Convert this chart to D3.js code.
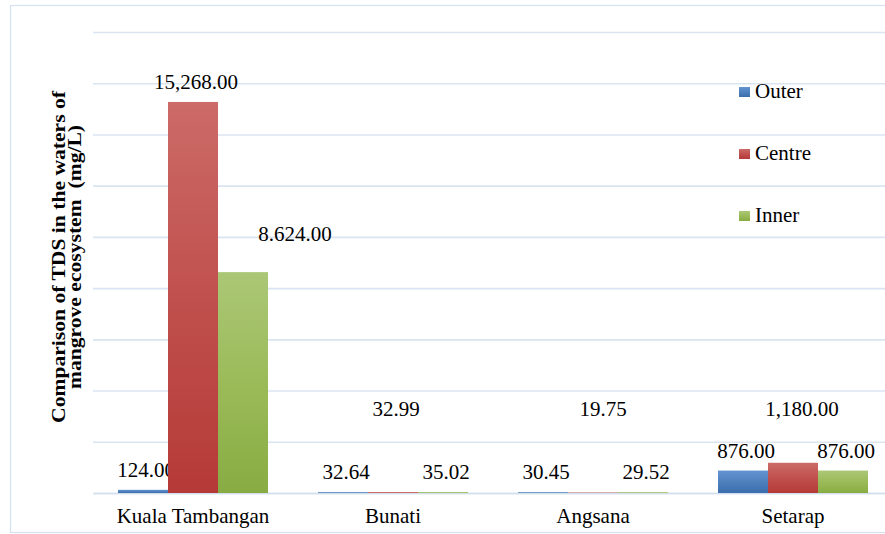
<!DOCTYPE html>
<html>
<head>
<meta charset="utf-8">
<script src="https://cdn.jsdelivr.net/npm/d3@7"></script>
<style>
  html, body { margin: 0; padding: 0; background: #fff; }
  svg { display: block; }
</style>
</head>
<body>
<svg id="chart" width="885" height="534"></svg>
<script>
// ---- data ----
const categories = ["Kuala Tambangan", "Bunati", "Angsana", "Setarap"];
const seriesNames = ["Outer", "Centre", "Inner"];
const outerValues  = [124, 32.64, 30.45, 876];
const centreValues = [15268, 32.99, 19.75, 1180];
const innerValues  = [8624, 35.02, 29.52, 876];
const outerLabels  = ["124.00", "32.64", "30.45", "876.00"];
const centreLabels = ["15,268.00", "32.99", "19.75", "1,180.00"];
const innerLabels  = ["8.624.00", "35.02", "29.52", "876.00"];
const yTicks = [0, 2000, 4000, 6000, 8000, 10000, 12000, 14000, 16000, 18000];
const yTitleLines = ["Comparison of TDS in the waters of", "mangrove ecosystem  (mg/L)"];

// ---- build ----
const FONT = "'Liberation Serif', 'Times New Roman', Times, serif";
const valuesBySeries = [outerValues, centreValues, innerValues];
const labelsBySeries = [outerLabels, centreLabels, innerLabels];
const colors = [
  { top: "#6494d2", mid: "#4f81bd", bot: "#3b6cad" },
  { top: "#cc6b68", mid: "#c0504d", bot: "#b53a37" },
  { top: "#abc776", mid: "#9bbb59", bot: "#88ac43" }
];

const svg = d3.select("#chart");
const W = 885, H = 534;
const plot = { left: 93, right: 893, top: 32, bottom: 493 };

svg.append("rect").attr("width", W).attr("height", H).attr("fill", "#fff");

const defs = svg.append("defs");
colors.forEach((c, i) => {
  const g = defs.append("linearGradient").attr("id", "grad" + i)
    .attr("x1", 0).attr("y1", 0).attr("x2", 0).attr("y2", 1);
  g.append("stop").attr("offset", "0%").attr("stop-color", c.top);
  g.append("stop").attr("offset", "50%").attr("stop-color", c.mid);
  g.append("stop").attr("offset", "100%").attr("stop-color", c.bot);
});

svg.append("rect")
  .attr("x", 10.5).attr("y", 5.5).attr("width", 900).attr("height", 527)
  .attr("fill", "none").attr("stroke", "#d6e1ef").attr("stroke-width", 1.2);

const x = d3.scaleBand().domain(categories).range([plot.left, plot.right])
  .paddingInner(0.25).paddingOuter(0.125);
const xs = d3.scaleBand().domain(seriesNames).range([0, x.bandwidth()]);
const y = d3.scaleLinear().domain([0, 18000]).range([plot.bottom, plot.top]);

const grid = d3.axisLeft(y).tickValues(yTicks).tickSize(-(plot.right - plot.left)).tickFormat("");
const gg = svg.append("g").attr("transform", `translate(${plot.left},0)`).call(grid);
gg.select(".domain").remove();
gg.selectAll(".tick line").attr("stroke", "#dbe5f2").attr("stroke-width", 1.6);

const xa = svg.append("g").attr("transform", `translate(0,${plot.bottom})`)
  .call(d3.axisBottom(x).tickSize(0).tickPadding(0));
xa.attr("font-family", FONT).attr("font-size", 21);
xa.select(".domain").attr("stroke", "#d3deec").attr("stroke-width", 1.6);
xa.selectAll(".tick text")
  .attr("dy", null).attr("y", 30)
  .style("font-family", FONT)
  .style("font-size", "21px").attr("fill", "#000");

const labelNudge = { "Kuala Tambangan|Inner": [49, -18], "Angsana|Centre": [7, 0], "Setarap|Centre": [6, 0] };
const labelsG = svg.append("g");
const barsG = svg.append("g");

seriesNames.forEach((s, si) => {
  const rows = categories.map((c, ci) => ({ c, v: valuesBySeries[si][ci], t: labelsBySeries[si][ci] }));
  barsG.selectAll(null).data(rows).enter().append("rect")
    .attr("x", d => x(d.c) + xs(s))
    .attr("y", d => y(d.v))
    .attr("width", xs.bandwidth())
    .attr("height", d => plot.bottom - y(d.v))
    .attr("fill", `url(#grad${si})`);

  labelsG.selectAll(null).data(rows).enter().append("text")
    .attr("x", d => x(d.c) + xs(s) + xs.bandwidth() / 2 + 3 + ((labelNudge[d.c + "|" + s] || [0, 0])[0]))
    .attr("y", d => {
      let yy = y(d.v) - 13;
      if (s === "Centre") yy = Math.min(yy, y(3000));
      return yy + ((labelNudge[d.c + "|" + s] || [0, 0])[1]);
    })
    .attr("text-anchor", "middle")
    .style("font-family", FONT)
    .style("font-size", "21px")
    .attr("fill", "#000")
    .text(d => d.t);
});

// y-axis title: two bold lines, slightly stretched along the text direction
const yt = svg.append("text")
  .attr("transform", `translate(0,257) rotate(-90) scale(1.2,1)`)
  .attr("text-anchor", "middle")
  .style("font-family", FONT)
  .style("white-space", "pre")
  .style("font-size", "18px").style("font-weight", "bold").attr("fill", "#000");
yTitleLines.forEach((l, i) => {
  yt.append("tspan").attr("x", 0).attr("y", i === 0 ? 65 : 81).text(l);
});

const leg = svg.append("g");
seriesNames.forEach((s, i) => {
  const gy = 98 + i * 62;
  leg.append("rect").attr("x", 739).attr("y", gy - 11).attr("width", 11).attr("height", 10)
    .attr("fill", `url(#grad${i})`);
  leg.append("text").attr("x", 755).attr("y", gy)
    .style("font-family", FONT).style("font-size", "21px").attr("fill", "#000").text(s);
});
</script>
</body>
</html>
